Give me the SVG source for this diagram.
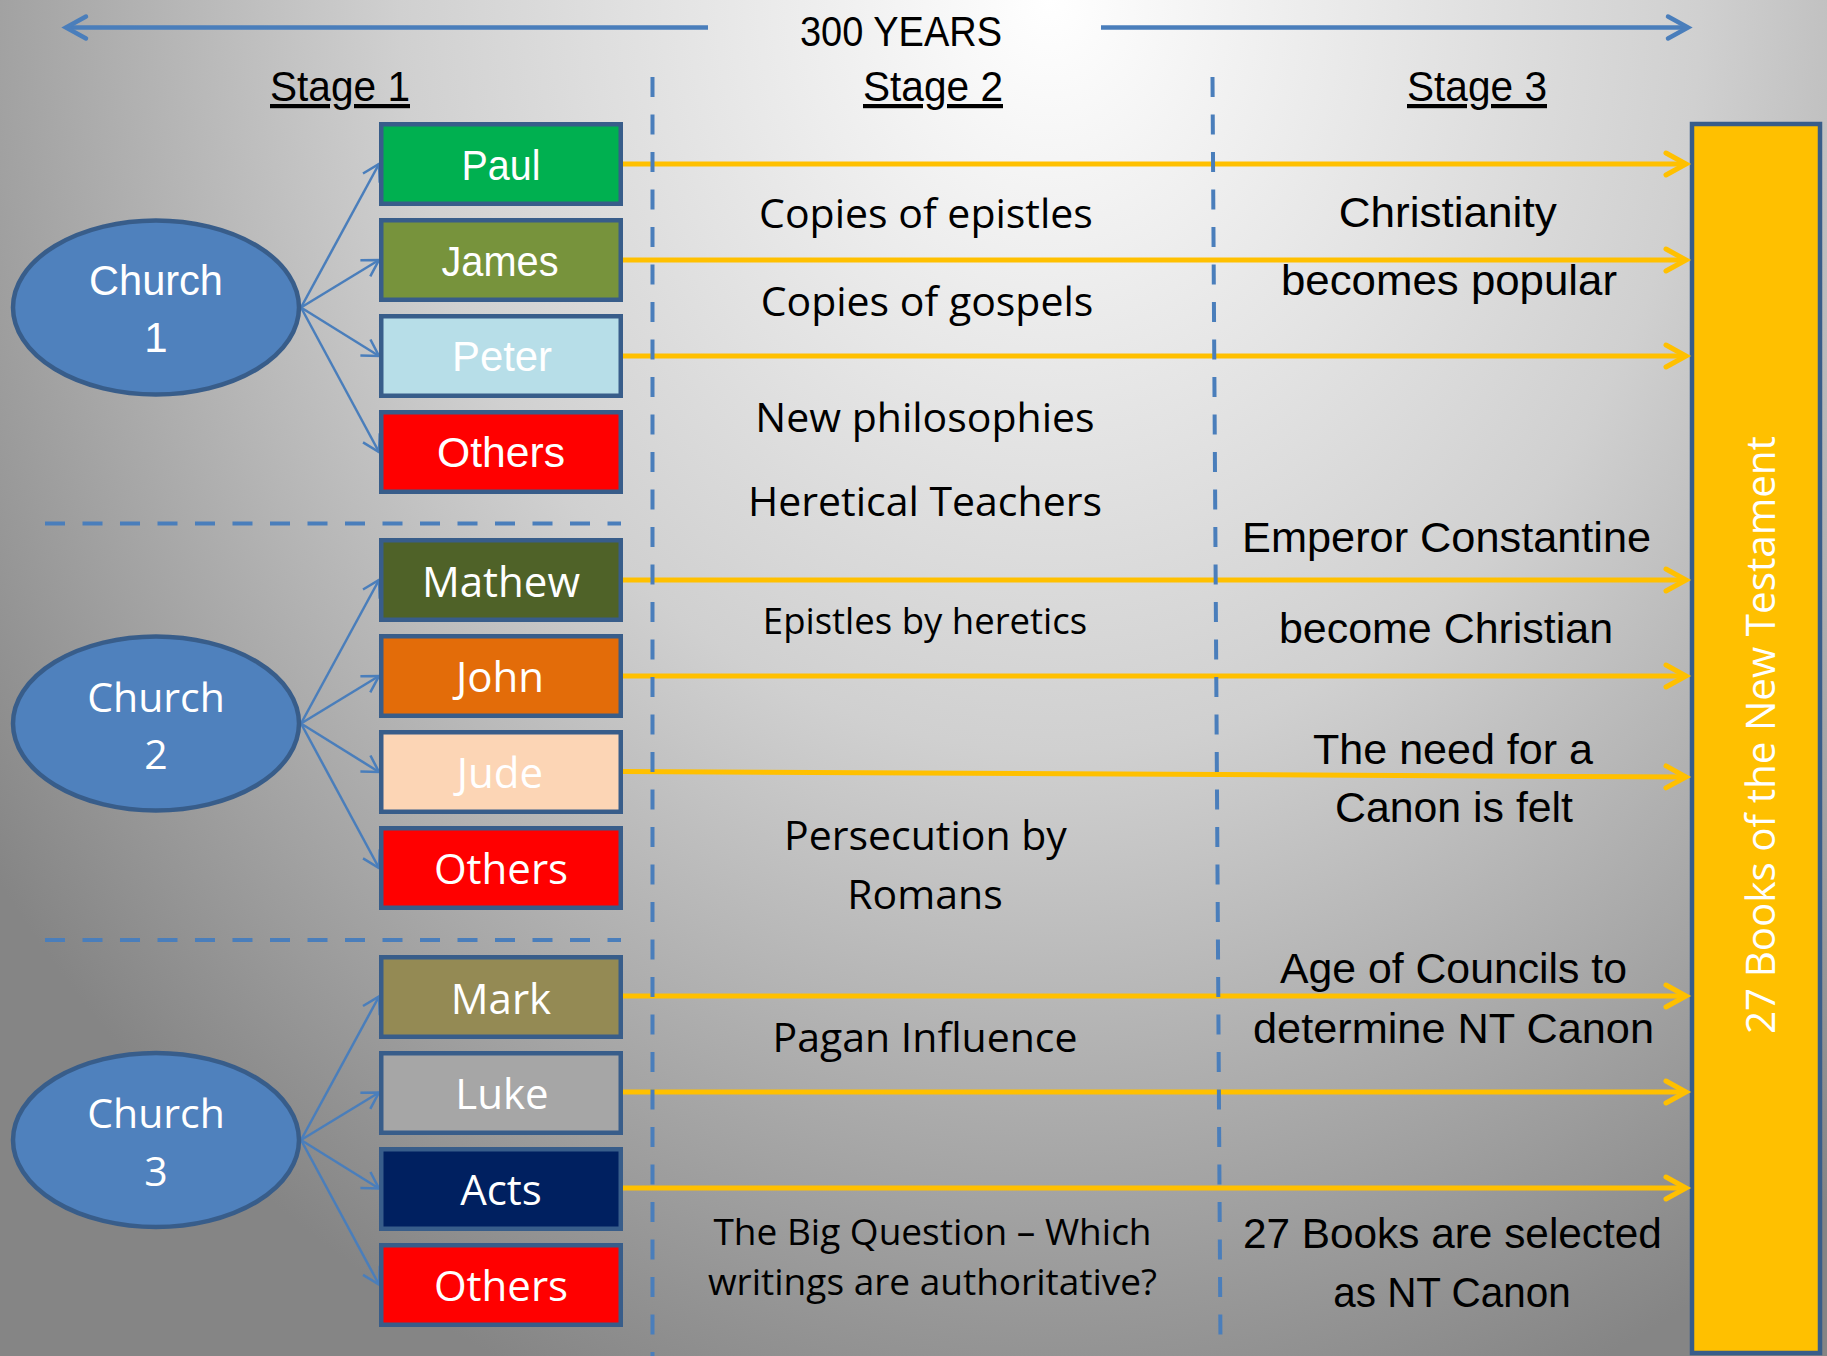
<svg xmlns="http://www.w3.org/2000/svg" width="1827" height="1356" viewBox="0 0 1827 1356">
<style>
.cal{font-family:"Liberation Sans",Arial,sans-serif;}
.seg{font-family:"Open Sans","Noto Sans",sans-serif;}
.w{fill:#ffffff;}
.k{fill:#000000;}
.box{stroke:#385D8A;stroke-width:4.5;}
.ell{fill:#4F81BD;stroke:#385D8A;stroke-width:4.5;}
.bl{stroke:#4A7EBB;stroke-width:2.5;fill:none;marker-end:url(#ab);}
.yl{stroke:#FFC000;stroke-width:5;fill:none;marker-end:url(#ay);}
.top{stroke:#4A7EBB;stroke-width:4.5;fill:none;marker-end:url(#at);}
.dash{stroke:#4A7EBB;stroke-width:4;stroke-dasharray:20 17.5;fill:none;}
.mid{text-anchor:middle;}
</style>
<defs>
<radialGradient id="bg" gradientUnits="userSpaceOnUse" cx="0" cy="0" r="1" gradientTransform="translate(1050 0) scale(1300 1500)">
<stop offset="0" stop-color="#ffffff"/>
<stop offset="0.5" stop-color="#d0d0d0"/>
<stop offset="1" stop-color="#858585"/>
</radialGradient>
<marker id="ab" markerUnits="userSpaceOnUse" markerWidth="40" markerHeight="40" viewBox="-30 -20 40 40" refX="0" refY="0" orient="auto" overflow="visible">
<path d="M-16,-9.5 L0,0 L-16,9.5" fill="none" stroke="#4A7EBB" stroke-width="2.5"/>
</marker>
<marker id="ay" markerUnits="userSpaceOnUse" markerWidth="40" markerHeight="40" viewBox="-30 -20 40 40" refX="0" refY="0" orient="auto" overflow="visible">
<path d="M-20,-11 L0,0 L-20,11" fill="none" stroke="#FFC000" stroke-width="5" stroke-linecap="round"/>
</marker>
<marker id="at" markerUnits="userSpaceOnUse" markerWidth="40" markerHeight="40" viewBox="-30 -20 40 40" refX="0" refY="0" orient="auto" overflow="visible">
<path d="M-20,-11 L0,0 L-20,11" fill="none" stroke="#4A7EBB" stroke-width="4.5" stroke-linecap="round"/>
</marker>
</defs>
<rect x="0" y="0" width="1827" height="1356" fill="url(#bg)"/>

<g id="header">
<line class="top" x1="708" y1="27.5" x2="66" y2="27.5"/>
<line class="top" x1="1101" y1="27.5" x2="1688" y2="27.5"/>
<text class="cal k mid" x="901" y="45.5" font-size="42" textLength="202" lengthAdjust="spacingAndGlyphs">300 YEARS</text>
<text class="cal k mid" x="340" y="101" font-size="42" textLength="140" lengthAdjust="spacingAndGlyphs" text-decoration="underline">Stage 1</text>
<text class="cal k mid" x="933" y="101" font-size="42" textLength="140" lengthAdjust="spacingAndGlyphs" text-decoration="underline">Stage 2</text>
<text class="cal k mid" x="1477" y="101" font-size="42" textLength="140" lengthAdjust="spacingAndGlyphs" text-decoration="underline">Stage 3</text>
</g>

<g id="nt-bar">
<rect x="1692" y="124" width="128" height="1229" fill="#FFC000" stroke="#385D8A" stroke-width="4.5"/>
<text class="seg w mid" transform="translate(1775,735) rotate(-90)" font-size="40" textLength="598" lengthAdjust="spacingAndGlyphs">27 Books of the New Testament</text>
</g>

<g id="connectors">
<line class="yl" x1="623" y1="164" x2="1686" y2="164"/>
<line class="yl" x1="623" y1="260" x2="1686" y2="260"/>
<line class="yl" x1="623" y1="356" x2="1686" y2="356"/>
<line class="yl" x1="623" y1="580" x2="1686" y2="580"/>
<line class="yl" x1="623" y1="676" x2="1686" y2="676"/>
<line class="yl" x1="623" y1="771.5" x2="1686" y2="777"/>
<line class="yl" x1="623" y1="996" x2="1686" y2="996"/>
<line class="yl" x1="623" y1="1092" x2="1686" y2="1092"/>
<line class="yl" x1="623" y1="1188" x2="1686" y2="1188"/>

<line class="bl" x1="301" y1="307.5" x2="379" y2="164"/>
<line class="bl" x1="301" y1="307.5" x2="379" y2="260"/>
<line class="bl" x1="301" y1="307.5" x2="379" y2="356"/>
<line class="bl" x1="301" y1="307.5" x2="379" y2="452"/>
<line class="bl" x1="301" y1="723.5" x2="379" y2="580"/>
<line class="bl" x1="301" y1="723.5" x2="379" y2="676"/>
<line class="bl" x1="301" y1="723.5" x2="379" y2="772"/>
<line class="bl" x1="301" y1="723.5" x2="379" y2="868"/>
<line class="bl" x1="301" y1="1140" x2="379" y2="996.5"/>
<line class="bl" x1="301" y1="1140" x2="379" y2="1092.5"/>
<line class="bl" x1="301" y1="1140" x2="379" y2="1188.5"/>
<line class="bl" x1="301" y1="1140" x2="379" y2="1284.5"/>
</g>

<g id="dividers">
<line class="dash" x1="652.5" y1="77" x2="652.5" y2="1356"/>
<line class="dash" x1="1212.5" y1="77" x2="1220.5" y2="1348"/>
<line class="dash" x1="45" y1="523.5" x2="621" y2="523.5"/>
<line class="dash" x1="45" y1="940" x2="621" y2="940"/>
</g>

<g id="church1">
<ellipse class="ell" cx="156" cy="307.5" rx="143" ry="87"/>
<text class="cal w mid" x="156" y="295" font-size="42" textLength="134" lengthAdjust="spacingAndGlyphs">Church</text>
<text class="cal w mid" x="156" y="352" font-size="42">1</text>
</g>
<g id="church2">
<ellipse class="ell" cx="156" cy="723.5" rx="143" ry="87"/>
<text class="seg w mid" x="156" y="712" font-size="41">Church</text>
<text class="seg w mid" x="156" y="769" font-size="41">2</text>
</g>
<g id="church3">
<ellipse class="ell" cx="156" cy="1140" rx="143" ry="87"/>
<text class="seg w mid" x="156" y="1128" font-size="41">Church</text>
<text class="seg w mid" x="156" y="1186" font-size="41">3</text>
</g>

<g id="paul"><rect class="box" x="381.25" y="124.25" width="239.5" height="79.5" fill="#00B050"/>
<text class="cal w mid" x="501" y="180" font-size="42" textLength="79" lengthAdjust="spacingAndGlyphs">Paul</text></g>
<g id="james"><rect class="box" x="381.25" y="220.25" width="239.5" height="79.5" fill="#77933C"/>
<text class="cal w mid" x="500" y="275.5" font-size="42" textLength="117" lengthAdjust="spacingAndGlyphs">James</text></g>
<g id="peter"><rect class="box" x="381.25" y="316.25" width="239.5" height="79.5" fill="#B7DEE8"/>
<text class="cal w mid" x="502" y="371" font-size="42" textLength="100" lengthAdjust="spacingAndGlyphs">Peter</text></g>
<g id="others1"><rect class="box" x="381.25" y="412.25" width="239.5" height="79.5" fill="#FF0000"/>
<text class="cal w mid" x="501" y="467" font-size="42" textLength="128" lengthAdjust="spacingAndGlyphs">Others</text></g>

<g id="mathew"><rect class="box" x="381.25" y="540.25" width="239.5" height="79.5" fill="#4F6228"/>
<text class="seg w mid" x="501" y="597" font-size="42">Mathew</text></g>
<g id="john"><rect class="box" x="381.25" y="636.25" width="239.5" height="79.5" fill="#E36C09"/>
<text class="seg w mid" x="500" y="692" font-size="42">John</text></g>
<g id="jude"><rect class="box" x="381.25" y="732.25" width="239.5" height="79.5" fill="#FCD5B5"/>
<text class="seg w mid" x="500" y="788" font-size="42">Jude</text></g>
<g id="others2"><rect class="box" x="381.25" y="828.25" width="239.5" height="79.5" fill="#FF0000"/>
<text class="seg w mid" x="501" y="884" font-size="42">Others</text></g>

<g id="mark"><rect class="box" x="381.25" y="957.25" width="239.5" height="79.5" fill="#948A54"/>
<text class="seg w mid" x="501" y="1013.5" font-size="42">Mark</text></g>
<g id="luke"><rect class="box" x="381.25" y="1053.25" width="239.5" height="79.5" fill="#A6A6A6"/>
<text class="seg w mid" x="502" y="1108.5" font-size="42">Luke</text></g>
<g id="acts"><rect class="box" x="381.25" y="1149.25" width="239.5" height="79.5" fill="#002060"/>
<text class="seg w mid" x="501" y="1205" font-size="42">Acts</text></g>
<g id="others3"><rect class="box" x="381.25" y="1245.25" width="239.5" height="79.5" fill="#FF0000"/>
<text class="seg w mid" x="501" y="1300.5" font-size="42">Others</text></g>

<g id="stage2-notes">
<text class="seg k mid" x="926" y="228" font-size="41">Copies of epistles</text>
<text class="seg k mid" x="927" y="316" font-size="41">Copies of gospels</text>
<text class="seg k mid" x="925" y="432" font-size="41">New philosophies</text>
<text class="seg k mid" x="925" y="515.5" font-size="41">Heretical Teachers</text>
<text class="seg k mid" x="925" y="634" font-size="36.5">Epistles by heretics</text>
<text class="seg k mid" x="925.5" y="850" font-size="41">Persecution by</text>
<text class="seg k mid" x="925" y="909" font-size="41">Romans</text>
<text class="seg k mid" x="925" y="1052" font-size="41">Pagan Influence</text>
<text class="seg k mid" x="932.5" y="1244.5" font-size="37">The Big Question – Which</text>
<text class="seg k mid" x="932.5" y="1295" font-size="37">writings are authoritative?</text>
</g>

<g id="stage3-notes">
<text class="cal k mid" x="1447.7" y="226.7" font-size="42" textLength="218" lengthAdjust="spacingAndGlyphs">Christianity</text>
<text class="cal k mid" x="1449" y="295" font-size="42" textLength="336" lengthAdjust="spacingAndGlyphs">becomes popular</text>
<text class="cal k mid" x="1446.6" y="551.7" font-size="42" textLength="409" lengthAdjust="spacingAndGlyphs">Emperor Constantine</text>
<text class="cal k mid" x="1446" y="642.7" font-size="42" textLength="334" lengthAdjust="spacingAndGlyphs">become Christian</text>
<text class="cal k mid" x="1453" y="764" font-size="42" textLength="280" lengthAdjust="spacingAndGlyphs">The need for a</text>
<text class="cal k mid" x="1454" y="821.7" font-size="42" textLength="238" lengthAdjust="spacingAndGlyphs">Canon is felt</text>
<text class="cal k mid" x="1453.5" y="983" font-size="42" textLength="347" lengthAdjust="spacingAndGlyphs">Age of Councils to</text>
<text class="cal k mid" x="1453.5" y="1042.7" font-size="42" textLength="401" lengthAdjust="spacingAndGlyphs">determine NT Canon</text>
<text class="cal k mid" x="1452.4" y="1248" font-size="42" textLength="419" lengthAdjust="spacingAndGlyphs">27 Books are selected</text>
<text class="cal k mid" x="1452" y="1306.7" font-size="42" textLength="237.6" lengthAdjust="spacingAndGlyphs">as NT Canon</text>
</g>
</svg>
